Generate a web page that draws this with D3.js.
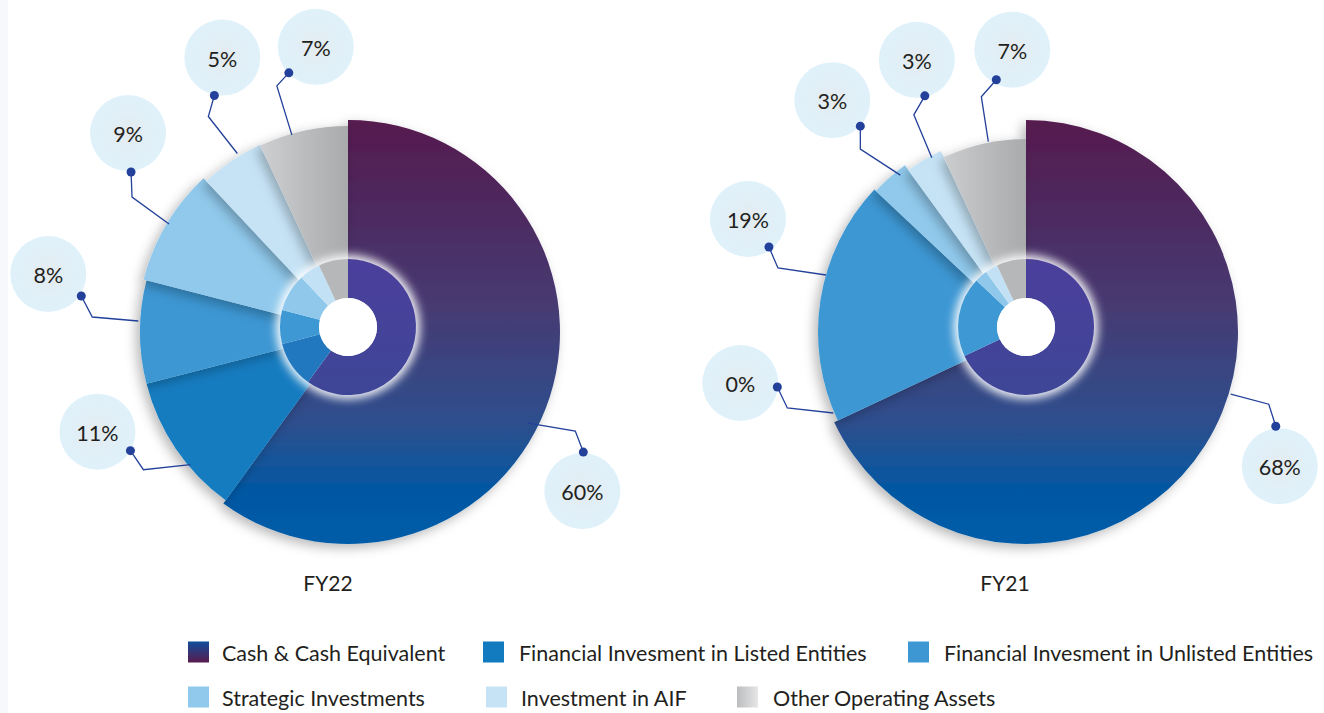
<!DOCTYPE html>
<html><head><meta charset="utf-8">
<script src="https://cdn.jsdelivr.net/npm/d3@7"></script>
<style>
body{margin:0;background:#fff;}
svg{display:block;font-family:Lato,"Open Sans",sans-serif;}
</style>
</head><body>
<svg id="chart" width="1324" height="713"></svg>
<script>
// ---------- DATA ----------
const categories = [
  "Cash & Cash Equivalent",
  "Financial Invesment in Listed Entities",
  "Financial Invesment in Unlisted Entities",
  "Strategic Investments",
  "Investment in AIF",
  "Other Operating Assets"
];
const years = ["FY22", "FY21"];
const fy22Values = [60, 11, 8, 9, 5, 7];
const fy21Values = [68, 0, 19, 3, 3, 7];

// ---------- STYLE / LAYOUT ----------
const sliceColors = ["url(#cashGrad)", "#127bc0", "#3d97d3", "#90c9ec", "#c6e3f6", "url(#otherGrad)"];
const ringColors  = ["url(#ringGrad)", "#2178be", "#3d98d3", "#8fc8eb", "#c3e1f4", "#b6b7b9"];
const legendSwatch = ["url(#cashLegendGrad)", "#127bc0", "#3d97d3", "#90c9ec", "#c6e3f6", "url(#otherLegendGrad)"];
const charts = [
  { year: years[0], values: fy22Values, cx: 348, cy: 332, ringCy: 327, titleX: 328,
    radii: [212, 208, 208, 211, 207, 206],
    leaders: [
      {da: 8.8,  r: 202, elbow: [47, 8],   dot: [55, 29],   bubble: [54, 68]},
      {da: -5.9, r: 206, elbow: [-47, 5],  dot: [-60, -14], bubble: [-93, -33]},
      {da: 3,    r: 210, elbow: [-46, -4], dot: [-57, -25], bubble: [-90, -47]},
      {da: 0.5,  r: 209, elbow: [-37, -27],dot: [-38, -52], bubble: [-41, -91]},
      {da: 2.4,  r: 210, elbow: [-29, -37],dot: [-23, -58], bubble: [-15, -96]},
      {da: -3.3, r: 205, elbow: [-15, -49],dot: [-3, -62],  bubble: [24, -88]}
    ]},
  { year: years[1], values: fy21Values, cx: 1026, cy: 332, ringCy: 327, titleX: 1005,
    radii: [212, 208, 208, 206, 200, 193],
    leaders: [
      {da: -15.5, r: 214, elbow: [38, 10],  dot: [45, 32],   bubble: [49, 72]},
      {da: 2.4,   r: 209, elbow: [-46, -5], dot: [-56, -26], bubble: [-93, -30]},
      {da: 6.9,   r: 208, elbow: [-48, -7], dot: [-57, -28], bubble: [-78, -56]},
      {da: 2.7,   r: 201, elbow: [-40, -26],dot: [-40, -49], bubble: [-68, -75]},
      {da: 2.2,   r: 198, elbow: [-18, -43],dot: [-7, -62],  bubble: [-15, -98]},
      {da: 1.4,   r: 194, elbow: [-7, -45], dot: [8, -62],   bubble: [24, -92]}
    ]}
];
const legendRows = [
  {y: 652, items: [{i:0, x:188, tx:222}, {i:1, x:483, tx:519}, {i:2, x:908, tx:944}]},
  {y: 697, items: [{i:3, x:188, tx:222}, {i:4, x:486, tx:521}, {i:5, x:737, tx:773}]}
];

const svg = d3.select("#chart");
const defs = svg.append("defs");

function linGrad(id, x1, y1, x2, y2, stops, user) {
  const g = defs.append("linearGradient").attr("id", id)
    .attr("x1", x1).attr("y1", y1).attr("x2", x2).attr("y2", y2);
  if (user) g.attr("gradientUnits", "userSpaceOnUse");
  stops.forEach(s => g.append("stop").attr("offset", s[0]).attr("stop-color", s[1]));
}
linGrad("cashGrad", 0, -212, 0, 212,
  [[0, "#551a4e"], [0.45, "#463b73"], [0.72, "#2d4f8e"], [0.88, "#0058a3"], [1, "#005ca8"]], true);
linGrad("otherGrad", -100, 0, 0, 0, [[0, "#d3d4d6"], [1, "#a9aaac"]], true);
linGrad("ringGrad", 0, -68, 0, 68, [[0, "#4b3f9c"], [1, "#3e4697"]], true);
linGrad("cashLegendGrad", 0, 0, 0, 1, [[0, "#0f4f9b"], [1, "#5a1a4e"]]);
linGrad("otherLegendGrad", 0, 0, 1, 0, [[0, "#bcbdbf"], [1, "#e6e6e7"]]);
const bub = defs.append("radialGradient").attr("id", "bubbleGrad");
bub.append("stop").attr("offset", 0).attr("stop-color", "#e4ebef");
bub.append("stop").attr("offset", 0.55).attr("stop-color", "#e1eff7");
bub.append("stop").attr("offset", 1).attr("stop-color", "#dff1fa");

const shadow = defs.append("filter").attr("id", "shadow")
  .attr("x", "-30%").attr("y", "-30%").attr("width", "160%").attr("height", "160%");
shadow.append("feDropShadow").attr("dx", -4).attr("dy", 4).attr("stdDeviation", 6)
  .attr("flood-color", "#000").attr("flood-opacity", 0.28);
const glow = defs.append("filter").attr("id", "glow")
  .attr("x", "-50%").attr("y", "-50%").attr("width", "200%").attr("height", "200%");
glow.append("feGaussianBlur").attr("stdDeviation", 5);

// faint band at the left edge of the page
svg.append("rect").attr("x", 0).attr("y", 0).attr("width", 8).attr("height", 713).attr("fill", "#f7f8fc");

const pie = d3.pie().sort(null).value(d => d);
const deg = Math.PI / 180;
const polar = (a, r) => [Math.sin(a) * r, -Math.cos(a) * r];
const pctFmt = v => d3.format("d")(v) + "%";

charts.forEach((c, k) => {
  const arcs = pie(c.values);
  const g = svg.append("g").attr("transform", `translate(${c.cx},${c.cy})`);

  // outer slices (variable radius)
  g.selectAll("path.slice").data(arcs).join("path")
    .attr("class", "slice")
    .attr("d", (d, i) => d3.arc().innerRadius(0).outerRadius(c.radii[i])(d))
    .attr("fill", (d, i) => sliceColors[i])
    .attr("filter", d => d.value > 0 ? "url(#shadow)" : null);

  // inner ring
  const rg = svg.append("g").attr("transform", `translate(${c.cx},${c.ringCy})`);
  rg.append("circle").attr("r", 72).attr("fill", "#fff").attr("opacity", 0.95).attr("filter", "url(#glow)");
  const ringArc = d3.arc().innerRadius(29).outerRadius(68);
  rg.selectAll("path.ring").data(arcs).join("path")
    .attr("class", "ring").attr("d", ringArc).attr("fill", (d, i) => ringColors[i]);
  rg.append("circle").attr("r", 29).attr("fill", "#fff");

  // leaders and bubbles
  arcs.forEach((d, i) => {
    const L = c.leaders[i];
    const a = (d.startAngle + d.endAngle) / 2 + L.da * deg;
    const s = polar(a, L.r);
    const e = [s[0] + L.elbow[0], s[1] + L.elbow[1]];
    const p = [s[0] + L.dot[0], s[1] + L.dot[1]];
    const b = [s[0] + L.bubble[0], s[1] + L.bubble[1]];
    g.append("circle").attr("cx", b[0]).attr("cy", b[1]).attr("r", 38).attr("fill", "url(#bubbleGrad)");
    g.append("text").attr("x", b[0]).attr("y", b[1] + 1).attr("text-anchor", "middle")
      .attr("dominant-baseline", "central").attr("font-size", 21.5).attr("fill", "#231f20")
      .text(pctFmt(d.value));
    g.append("path").attr("d", d3.line()([s, e, p])).attr("fill", "none")
      .attr("stroke", "#23409a").attr("stroke-width", 1.3);
    g.append("circle").attr("cx", p[0]).attr("cy", p[1]).attr("r", 4.5).attr("fill", "#23409a");
  });

  svg.append("text").attr("x", c.titleX).attr("y", 582).attr("text-anchor", "middle")
    .attr("dominant-baseline", "central").attr("font-size", 21).attr("fill", "#231f20").text(c.year);
});

// legend
legendRows.forEach(row => {
  row.items.forEach(it => {
    svg.append("rect").attr("x", it.x).attr("y", row.y - 10.5).attr("width", 21).attr("height", 21)
      .attr("fill", legendSwatch[it.i]);
    svg.append("text").attr("x", it.tx).attr("y", row.y + 1).attr("dominant-baseline", "central")
      .attr("font-size", 21.5).attr("fill", "#231f20").text(categories[it.i]);
  });
});
</script>
</body></html>
